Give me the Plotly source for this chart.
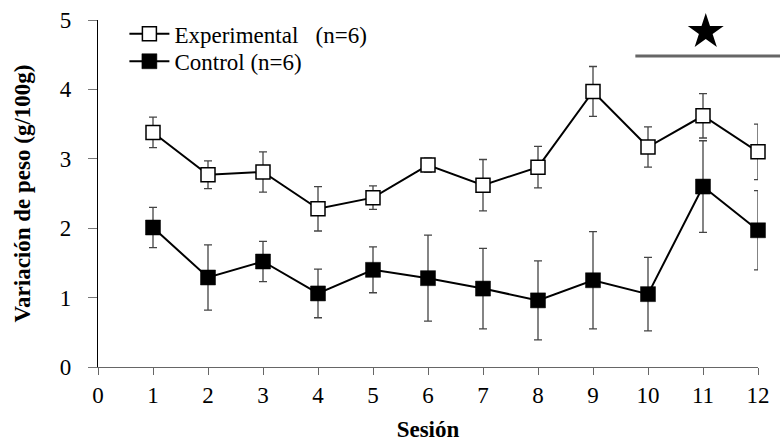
import plotly.graph_objects as go

# Sessions and mean weight change (g/100g) with their error ranges
sesiones = [1, 2, 3, 4, 5, 6, 7, 8, 9, 10, 11, 12]
experimental = [3.38, 2.77, 2.81, 2.28, 2.44, 2.91, 2.62, 2.88, 3.97, 3.17, 3.62, 3.10]
experimental_err = [0.22, 0.20, 0.29, 0.32, 0.17, 0.10, 0.37, 0.30, 0.36, 0.29, 0.32, 0.40]
control = [2.01, 1.29, 1.52, 1.06, 1.40, 1.28, 1.13, 0.96, 1.25, 1.05, 2.60, 1.97]
control_err = [0.29, 0.47, 0.29, 0.35, 0.33, 0.62, 0.58, 0.57, 0.70, 0.53, 0.66, 0.57]

x_ticks = list(range(0, 13))
y_ticks = [0, 1, 2, 3, 4, 5]

# Significance marker over the last sessions
sig_x = [9.77, 12.4]
sig_y = 4.48
star_x = [11.05]
star_y = [4.83]

X_RANGE = [0, 12]
Y_RANGE = [0, 5]

FONT = "'Liberation Serif', 'DejaVu Serif', serif"

fig = go.Figure()

fig.add_trace(go.Scatter(
    x=sesiones, y=experimental, name="Experimental\u00a0\u00a0\u00a0(n=6)",
    mode="lines+markers",
    line=dict(color="black", width=2),
    marker=dict(symbol="square", size=14, color="white", line=dict(color="black", width=1.5)),
    error_y=dict(type="data", array=experimental_err, visible=True,
                 color="#444", thickness=1.3, width=4),
    cliponaxis=False, legend="legend",
))

fig.add_trace(go.Scatter(
    x=sesiones, y=control, name="Control (n=6)",
    mode="lines+markers",
    line=dict(color="black", width=2),
    marker=dict(symbol="square", size=15, color="black", line=dict(color="black", width=0.5)),
    error_y=dict(type="data", array=control_err, visible=True,
                 color="#444", thickness=1.3, width=4),
    cliponaxis=False, legend="legend2",
))

fig.add_trace(go.Scatter(
    x=star_x, y=star_y, mode="markers", showlegend=False,
    marker=dict(symbol="star", size=27, color="black"),
    cliponaxis=False, hoverinfo="skip",
))

def to_paper(v):
    return (v - X_RANGE[0]) / (X_RANGE[1] - X_RANGE[0])

fig.add_shape(type="line", xref="paper", yref="y",
              x0=to_paper(sig_x[0]), x1=to_paper(sig_x[1]), y0=sig_y, y1=sig_y,
              line=dict(color="#666", width=3))

legend_style = dict(xanchor="left", yanchor="middle", bgcolor="rgba(0,0,0,0)",
                    font=dict(family=FONT, size=23), itemwidth=40)

fig.update_layout(
    width=780, height=443,
    margin=dict(l=98, r=22, t=20, b=76),
    plot_bgcolor="white", paper_bgcolor="white",
    font=dict(family=FONT, size=22, color="black"),
    showlegend=True,
    legend=dict(x=0.04, y=0.96, **legend_style),
    legend2=dict(x=0.04, y=0.881, **legend_style),
    xaxis=dict(range=X_RANGE, tickvals=x_ticks, showgrid=False, zeroline=False,
               showline=True, linecolor="#666", linewidth=1.3,
               ticks="outside", ticklen=7, tickcolor="#666",
               ticklabelstandoff=0, automargin=False,
               tickfont=dict(family=FONT, size=23),
               title=dict(text="<b>Sesión</b>", font=dict(family=FONT, size=23), standoff=14)),
    yaxis=dict(range=Y_RANGE, tickvals=y_ticks, showgrid=False, zeroline=False,
               showline=True, linecolor="black", linewidth=1.3,
               ticks="outside", ticklen=9, tickcolor="#777",
               ticklabelstandoff=12, automargin=False,
               tickfont=dict(family=FONT, size=23),
               title=dict(text="<b>Variación de peso (g/100g)</b>", font=dict(family=FONT, size=23), standoff=22)),
)

fig.write_html("out.html")
